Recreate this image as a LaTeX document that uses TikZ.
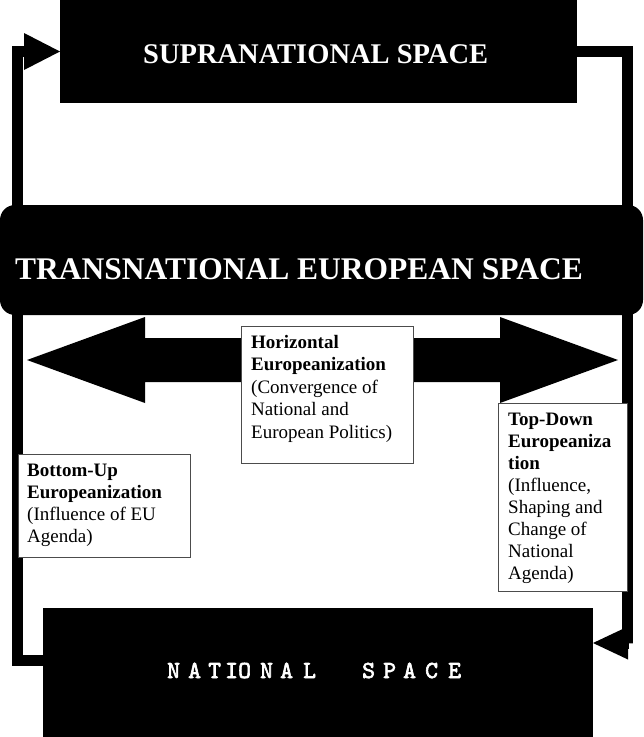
\documentclass[tikz,border=0pt]{standalone}
\usepackage{fontspec}
\setmainfont{Liberation Serif}
\newfontfamily\natfont{lmmono10-regular.otf}[FakeBold=2.5]
\usetikzlibrary{arrows.meta}
\newcommand\boxfont{\fontsize{19pt}{22pt}\selectfont}
\newcommand\fr{\rule{0pt}{15pt}}
\begin{document}
\begin{tikzpicture}[x=1pt,y=-1pt,
  blk/.style={fill=black, draw=none, inner sep=0, outer sep=0},
  wbox/.style={draw=black!70, line width=0.9pt, fill=white, inner sep=0, outer sep=0},
  conn/.style={draw=black, line width=11pt},
  btxt/.style={anchor=north west, align=left, inner sep=0, font=\boxfont},
  wtxt/.style={anchor=base west, inner sep=0, text=white}]
\useasboundingbox (0,0) rectangle (644,737);
% black spaces
\node[blk, minimum width=517pt, minimum height=103pt] (sup) at (318.5,51.5) {};
\node[blk, minimum width=643pt, minimum height=110pt, rounded corners=15pt] (trans) at (321.5,260) {};
\node[blk, minimum width=550pt, minimum height=129pt] (nat) at (318,672.5) {};
% connectors
\draw[conn, -{Triangle[length=36pt,width=37pt,line width=0pt]}]
  (nat.west |- 0,660) -| (17.5,51.5) -- (sup.west |- 0,51.5);
\draw[conn, -{Triangle[length=35pt,width=33pt,line width=0pt]}]
  (sup.east |- 0,51.5) -| (627.5,643) -- (nat.east |- 0,643);
% titles
\node[wtxt, font=\bfseries\fontsize{28.5pt}{30pt}\selectfont] (suptxt) at (143,63) {SUPRANATIONAL SPACE};
\node[wtxt, font=\bfseries\fontsize{31.5pt}{34pt}\selectfont] (transtxt) at (15,279) {TRANSNATIONAL EUROPEAN SPACE};
\node[wtxt, font=\natfont\fontsize{24.5pt}{26pt}\selectfont] (nattxt) at (167,678)
  {\makebox[21pt][l]{N}\makebox[20pt][l]{A}\makebox[17pt][l]{T}\makebox[13pt][l]{I}\makebox[22pt][l]{O}\makebox[20pt][l]{N}\makebox[23pt][l]{A}\makebox[59pt][l]{L}\makebox[21pt][l]{S}\makebox[20pt][l]{P}\makebox[22pt][l]{A}\makebox[23pt][l]{C}E};
% horizontal double arrow
\fill[black] (27,360) -- (145,317) -- (145,338) -- (500,338) -- (500,317) -- (618,360)
  -- (500,403) -- (500,382) -- (145,382) -- (145,403) -- cycle;
% white boxes
\node[wbox, minimum width=172pt, minimum height=137pt] (hz) at (327,394.5) {};
\node[wbox, minimum width=172pt, minimum height=103pt] (bu) at (104,505.5) {};
\node[wbox, minimum width=129pt, minimum height=188pt] (td) at (562.5,497) {};
\node[btxt, font=\fontsize{19pt}{22.5pt}\selectfont] (hztxt) at (251,333)
  {\fr\textbf{Horizontal}\\\textbf{Europeanization}\\(Convergence of\\National and\\European Politics)};
\node[btxt] (butxt) at (27,461)
  {\fr\textbf{Bottom-Up}\\\textbf{Europeanization}\\(Influence of EU\\Agenda)};
\node[btxt] (tdtxt) at (508,410)
  {\fr\textbf{Top-Down}\\\textbf{Europeaniza}\\\textbf{tion}\\(Influence,\\Shaping and\\Change of\\National\\Agenda)};
\end{tikzpicture}
\end{document}
